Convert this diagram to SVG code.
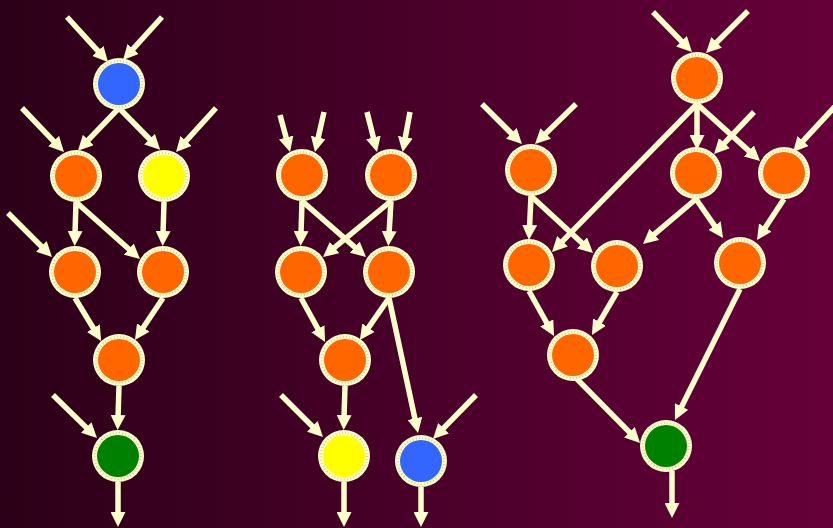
<svg xmlns="http://www.w3.org/2000/svg" width="833" height="528" viewBox="0 0 833 528">
<defs>
<linearGradient id="bg" x1="0" y1="0" x2="1" y2="0">
<stop offset="0" stop-color="#2C0018"/>
<stop offset="1" stop-color="#66003A"/>
</linearGradient>
<marker id="ah" markerUnits="userSpaceOnUse" viewBox="0 0 15 15" markerWidth="15" markerHeight="15" refX="3" refY="7.5" orient="auto">
<path d="M0,0 L15,7.5 L0,15 z" fill="#FFFFCC"/>
</marker>
<g id="ring">
<circle r="26" fill="#FFFFCC"/>
<circle r="23" fill="none" stroke="#D6CF9C" stroke-width="2.5" stroke-dasharray="0.9 2.3"/>
</g>
</defs>
<style>
.e{stroke:#FFFFCC;stroke-width:5.5;fill:none;marker-end:url(#ah)}
.n{stroke:none}
.o{fill:#FF6600}.b{fill:#3366FF}.y{fill:#FFFF00}.g{fill:#008000}
</style>
<rect width="833" height="528" fill="url(#bg)"/>
<g id="connectors">
<line class="e" x1="67" y1="17" x2="99.9" y2="53.1"/>
<line class="e" x1="162" y1="17" x2="131.1" y2="51.1"/>
<line class="e" x1="119" y1="108" x2="86.2" y2="142.2"/>
<line class="e" x1="119" y1="108" x2="151.7" y2="141.3"/>
<line class="e" x1="22" y1="108" x2="55.7" y2="143.3"/>
<line class="e" x1="216" y1="108" x2="184.1" y2="143.1"/>
<line class="e" x1="76" y1="202" x2="75" y2="234"/>
<line class="e" x1="76" y1="202" x2="131" y2="251"/>
<line class="e" x1="164" y1="202" x2="163" y2="234"/>
<line class="e" x1="8" y1="213" x2="43.5" y2="248.5"/>
<line class="e" x1="75" y1="298" x2="94.9" y2="330.7"/>
<line class="e" x1="163" y1="298" x2="141.6" y2="330"/>
<line class="e" x1="119" y1="386" x2="118" y2="418"/>
<line class="e" x1="53" y1="395" x2="88.4" y2="429.6"/>
<line class="e" x1="118" y1="482" x2="118" y2="515"/>

<line class="e" x1="280" y1="115" x2="286.9" y2="140.4"/>
<line class="e" x1="324" y1="112" x2="317.6" y2="140.3"/>
<line class="e" x1="367" y1="112" x2="374.1" y2="140.4"/>
<line class="e" x1="410" y1="112" x2="404.8" y2="140.2"/>
<line class="e" x1="302" y1="201" x2="301" y2="234"/>
<line class="e" x1="302" y1="201" x2="357" y2="249.1"/>
<line class="e" x1="391" y1="201" x2="332.3" y2="249.4"/>
<line class="e" x1="391" y1="201" x2="389" y2="234"/>
<line class="e" x1="301" y1="298" x2="319.3" y2="331.4"/>
<line class="e" x1="389" y1="298" x2="366.7" y2="330.1"/>
<line class="e" x1="389" y1="298" x2="415.5" y2="421.3"/>
<line class="e" x1="345" y1="386" x2="344" y2="418"/>
<line class="e" x1="281" y1="395" x2="314.5" y2="428.5"/>
<line class="e" x1="476" y1="395" x2="441.4" y2="430.4"/>
<line class="e" x1="344" y1="482" x2="344" y2="515"/>
<line class="e" x1="421" y1="487" x2="421" y2="515"/>

<line class="e" x1="653" y1="12" x2="683.6" y2="43.4"/>
<line class="e" x1="748" y1="11" x2="714.5" y2="44.5"/>
<line class="e" x1="697" y1="104" x2="697" y2="138"/>
<line class="e" x1="697" y1="104" x2="751.1" y2="152.9"/>
<line class="e" x1="754" y1="112" x2="722.3" y2="145.3"/>
<line class="e" x1="840" y1="101" x2="801.1" y2="143.2"/>
<line class="e" x1="697" y1="104" x2="560.4" y2="243.4"/>
<line class="e" x1="482" y1="104" x2="513.5" y2="135.5"/>
<line class="e" x1="576" y1="104" x2="543.6" y2="135.6"/>
<line class="e" x1="531" y1="196" x2="529.5" y2="228"/>
<line class="e" x1="531" y1="196" x2="584.2" y2="244.9"/>
<line class="e" x1="696" y1="199" x2="652.1" y2="236.2"/>
<line class="e" x1="696" y1="199" x2="716.2" y2="228.1"/>
<line class="e" x1="784" y1="199" x2="763.6" y2="230"/>
<line class="e" x1="529" y1="291" x2="548.2" y2="325.5"/>
<line class="e" x1="617" y1="292" x2="598" y2="324.6"/>
<line class="e" x1="740" y1="289" x2="680.3" y2="409.2"/>
<line class="e" x1="576" y1="378" x2="631.6" y2="434.4"/>
<line class="e" x1="672" y1="471" x2="672" y2="506"/>
</g>
<g id="nA" transform="translate(119,84)"><use href="#ring"/><circle class="n b" r="21"/></g>
<g id="nB" transform="translate(76,176)"><use href="#ring"/><circle class="n o" r="21"/></g>
<g id="nC" transform="translate(164,176)"><use href="#ring"/><circle class="n y" r="21"/></g>
<g id="nD" transform="translate(75,272)"><use href="#ring"/><circle class="n o" r="21"/></g>
<g id="nE" transform="translate(163,272)"><use href="#ring"/><circle class="n o" r="21"/></g>
<g id="nF" transform="translate(119,360)"><use href="#ring"/><circle class="n o" r="21"/></g>
<g id="nG" transform="translate(118,456)"><use href="#ring"/><circle class="n g" r="21"/></g>

<g id="nH" transform="translate(302,175)"><use href="#ring"/><circle class="n o" r="21"/></g>
<g id="nI" transform="translate(391,175)"><use href="#ring"/><circle class="n o" r="21"/></g>
<g id="nJ" transform="translate(301,272)"><use href="#ring"/><circle class="n o" r="21"/></g>
<g id="nK" transform="translate(389,272)"><use href="#ring"/><circle class="n o" r="21"/></g>
<g id="nL" transform="translate(345,360)"><use href="#ring"/><circle class="n o" r="21"/></g>
<g id="nM" transform="translate(344,456)"><use href="#ring"/><circle class="n y" r="21"/></g>
<g id="nN" transform="translate(421,461)"><use href="#ring"/><circle class="n b" r="21"/></g>

<g id="nP" transform="translate(697,78)"><use href="#ring"/><circle class="n o" r="21"/></g>
<g id="nQ" transform="translate(531,170)"><use href="#ring"/><circle class="n o" r="21"/></g>
<g id="nR" transform="translate(696,173)"><use href="#ring"/><circle class="n o" r="21"/></g>
<g id="nS" transform="translate(784,173)"><use href="#ring"/><circle class="n o" r="21"/></g>
<g id="nT" transform="translate(529,265)"><use href="#ring"/><circle class="n o" r="21"/></g>
<g id="nU" transform="translate(617,266)"><use href="#ring"/><circle class="n o" r="21"/></g>
<g id="nV" transform="translate(740,263)"><use href="#ring"/><circle class="n o" r="21"/></g>
<g id="nW" transform="translate(573,355)"><use href="#ring"/><circle class="n o" r="21"/></g>
<g id="nX" transform="translate(666,446)"><use href="#ring"/><circle class="n g" r="21"/></g>
</svg>
